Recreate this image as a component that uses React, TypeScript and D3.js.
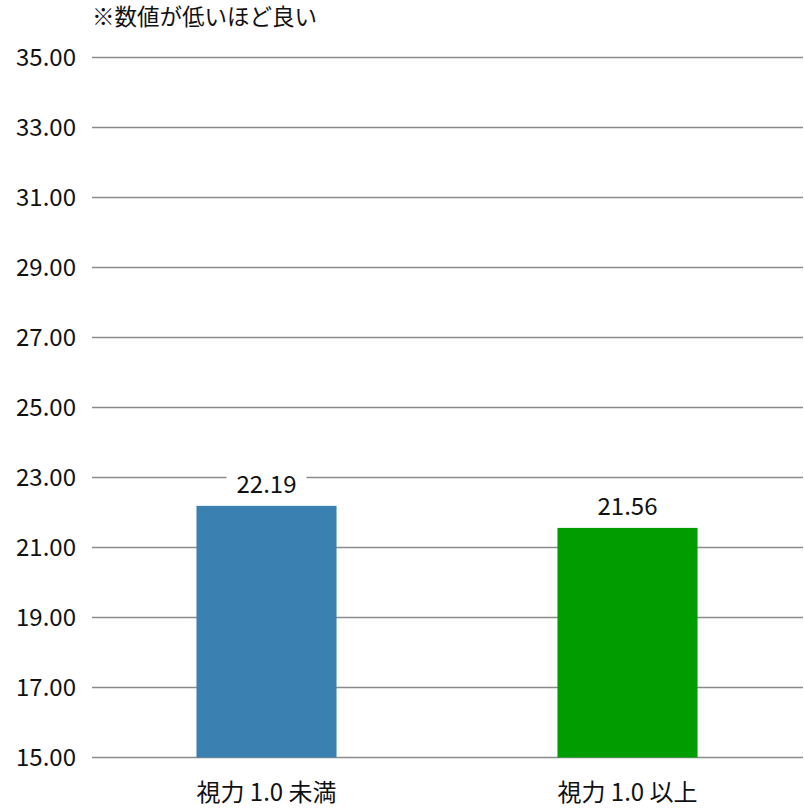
import * as d3 from 'd3';
import { useEffect, useRef } from 'react';

const categories = ['視力 1.0 未満', '視力 1.0 以上'];
const values = [22.19, 21.56];
const barColors = ['#3a80b1', '#009c00'];
const yTicks = [15, 17, 19, 21, 23, 25, 27, 29, 31, 33, 35];
const note = '※数値が低いほど良い';

const FONT = '"Noto Sans CJK JP", "Noto Sans", sans-serif';

export default function App() {
  const svgRef = useRef<SVGSVGElement>(null);

  useEffect(() => {
    if (!svgRef.current) return;
    const width = 804;
    const height = 808;
    const svg = d3.select(svgRef.current);
    svg.selectAll('*').remove();
    svg.attr('width', width).attr('height', height);

    const gridLeft = 92;
    const gridRight = 803;

    const y = d3.scaleLinear().domain([15, 35]).range([757.5, 57.5]);
    const x = d3
      .scaleBand()
      .domain(categories)
      .range([86, 808])
      .paddingInner(0.612)
      .paddingOuter(0.306);

    // note
    svg
      .append('text')
      .attr('x', 92)
      .attr('y', 25)
      .attr('font-family', FONT)
      .attr('font-size', 22.5)
      .attr('fill', '#111')
      .text(note);

    // grid lines
    svg
      .selectAll('.grid-line')
      .data(yTicks)
      .enter()
      .append('line')
      .attr('class', 'grid-line')
      .attr('x1', gridLeft)
      .attr('x2', gridRight)
      .attr('y1', (d) => y(d))
      .attr('y2', (d) => y(d))
      .attr('stroke', '#8a8a8a')
      .attr('stroke-width', 1.6);

    // y tick labels
    svg
      .selectAll('.y-label')
      .data(yTicks)
      .enter()
      .append('text')
      .attr('class', 'y-label')
      .attr('x', 76)
      .attr('y', (d) => y(d))
      .attr('dy', '0.35em')
      .attr('text-anchor', 'end')
      .attr('font-family', FONT)
      .attr('font-size', 24)
      .attr('fill', '#111')
      .text((d) => d.toFixed(2));

    // bars
    svg
      .selectAll('.bar')
      .data(values)
      .enter()
      .append('rect')
      .attr('class', 'bar')
      .attr('x', (_, i) => x(categories[i]) || 0)
      .attr('width', x.bandwidth())
      .attr('y', (d) => y(d))
      .attr('height', (d) => y(15) - y(d))
      .attr('fill', (_, i) => barColors[i]);

    // value labels with white backing
    values.forEach((v, i) => {
      const cx = (x(categories[i]) || 0) + x.bandwidth() / 2;
      const by = y(v) - 13;
      const txt = v.toFixed(2);
      svg
        .append('rect')
        .attr('x', cx - 40)
        .attr('y', by - 24)
        .attr('width', 80)
        .attr('height', 30)
        .attr('fill', '#fff');
      svg
        .append('text')
        .attr('x', cx)
        .attr('y', by)
        .attr('text-anchor', 'middle')
        .attr('font-family', FONT)
        .attr('font-size', 24)
        .attr('fill', '#111')
        .text(txt);
    });

    // category labels
    svg
      .selectAll('.x-label')
      .data(categories)
      .enter()
      .append('text')
      .attr('class', 'x-label')
      .attr('x', (d) => (x(d) || 0) + x.bandwidth() / 2)
      .attr('y', 801)
      .attr('text-anchor', 'middle')
      .attr('font-family', FONT)
      .attr('font-size', 24)
      .attr('fill', '#111')
      .text((d) => d);
  }, []);

  return (
    <div style={{ position: 'absolute', left: 0, top: 0 }}>
      <svg ref={svgRef} style={{ display: 'block' }} />
    </div>
  );
}
